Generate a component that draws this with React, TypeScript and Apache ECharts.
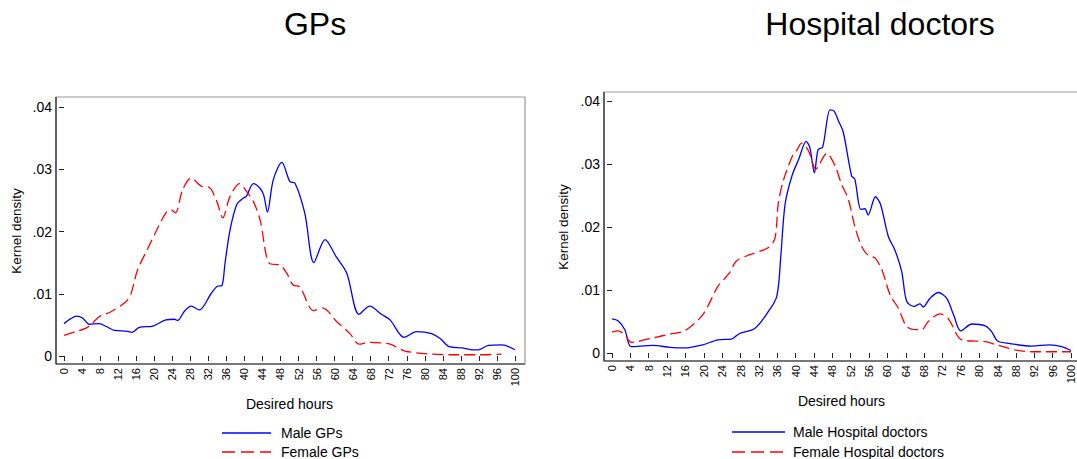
import React, { useEffect, useRef } from "react";
import * as echarts from "echarts";

const xTicks = [0, 4, 8, 12, 16, 20, 24, 28, 32, 36, 40, 44, 48, 52, 56, 60, 64, 68, 72, 76, 80, 84, 88, 92, 96, 100];
const yTicks = [0, 0.01, 0.02, 0.03, 0.04];
const chartTitles = ["GPs", "Hospital doctors"];
const seriesNames = ["Male GPs", "Female GPs", "Male Hospital doctors", "Female Hospital doctors"];

// [desired hours, kernel density]
const maleGP: number[][] = [
  [0, 0.0052], [1.5, 0.006], [2.8, 0.0064], [4.1, 0.0061], [5.6, 0.0051], [7.8, 0.0052], [9.5, 0.0047],
  [11.2, 0.0041], [13.7, 0.004], [15.1, 0.0038], [16.7, 0.0046], [19.7, 0.0048], [22.6, 0.0058],
  [24.5, 0.0059], [25.2, 0.0057], [26.7, 0.0072], [28.2, 0.008], [30, 0.0074], [32.6, 0.01], [34, 0.0112],
  [35, 0.0113], [35.7, 0.0149], [36.8, 0.0202], [38.3, 0.0243], [39.8, 0.0254], [40.4, 0.0256], [42, 0.0277],
  [43.5, 0.0269], [44.3, 0.0258], [45.1, 0.0231], [46.4, 0.0283], [48.3, 0.0311], [50.1, 0.028], [51.2, 0.0278],
  [53.4, 0.0229], [55.4, 0.015], [57.9, 0.0187], [60.3, 0.016], [62.7, 0.0133], [65.4, 0.0067], [67.8, 0.008],
  [70.4, 0.0067], [72.3, 0.0058], [75.4, 0.003], [78.2, 0.0039], [81.5, 0.0036], [83.4, 0.0028], [85.4, 0.0015],
  [88.2, 0.0013], [90.4, 0.001], [91.9, 0.001], [94.1, 0.0017], [97.1, 0.0018], [100, 0.001],
];
const femaleGP: number[][] = [
  [0, 0.0033], [2.5, 0.0039], [5.2, 0.0046], [7.8, 0.0063], [10.4, 0.0071], [13.7, 0.0087], [14.9, 0.0101],
  [16.3, 0.0138], [18.6, 0.0173], [20.4, 0.02], [22.6, 0.023], [23.7, 0.0235], [24.7, 0.023], [26.3, 0.0267],
  [28.2, 0.0286], [30.4, 0.0273], [32.2, 0.0271], [33.9, 0.0248], [35.2, 0.0222], [36.8, 0.0256], [38.9, 0.0277],
  [40.5, 0.0264], [42, 0.0248], [43.5, 0.0218], [45.5, 0.0149], [47.9, 0.0146], [49.4, 0.0133], [50.8, 0.0114],
  [52.3, 0.0111], [55.3, 0.0073], [57.4, 0.0077], [60.5, 0.0055], [63.4, 0.0036], [65.4, 0.0019], [67.8, 0.0022],
  [72.3, 0.0019], [75.6, 0.0008], [81.5, 0.0003], [86, 0.0002], [92, 0.0002], [97, 0.0003],
];
const maleHosp: number[][] = [
  [0, 0.0054], [1.3, 0.0051], [2.8, 0.0037], [4.2, 0.001], [8.9, 0.0012], [12.6, 0.0009], [15.8, 0.0008],
  [19.8, 0.0013], [23.1, 0.0021], [26, 0.0022], [27.8, 0.0031], [31.1, 0.0039], [33.8, 0.0063], [35.9, 0.009],
  [36.8, 0.0156], [37.7, 0.0236], [39.2, 0.0281], [40.7, 0.0308], [42.3, 0.0336], [43.1, 0.0326], [44.1, 0.0286],
  [44.9, 0.0323], [45.9, 0.0327], [47.5, 0.0386], [48.4, 0.0384], [49.3, 0.0369], [50.4, 0.035], [52.2, 0.0281],
  [52.9, 0.0276], [54.2, 0.0228], [55.1, 0.0229], [55.8, 0.0219], [57.4, 0.0248], [58.5, 0.0236], [60.2, 0.0185],
  [61.6, 0.0164], [63.1, 0.013], [64.2, 0.0082], [65.8, 0.0074], [67.1, 0.0078], [67.8, 0.0073], [69.3, 0.0087],
  [71.1, 0.0096], [72.9, 0.0087], [74.4, 0.0061], [76, 0.0035], [78.4, 0.0046], [81.3, 0.0043], [82.7, 0.0034],
  [84, 0.0019], [86.7, 0.0015], [91.4, 0.0011], [95.4, 0.0013], [98, 0.001], [100, 0.0004],
];
const femaleHosp: number[][] = [
  [0, 0.0033], [1.3, 0.0035], [2.8, 0.0029], [4.2, 0.0017], [8.9, 0.0024], [12.6, 0.003], [15.8, 0.0035],
  [19.8, 0.0061], [23.1, 0.0106], [25.6, 0.0127], [27.1, 0.0146], [30, 0.0156], [34, 0.0167], [35.5, 0.0182],
  [36.2, 0.0236], [37.3, 0.0273], [39.5, 0.0316], [40.2, 0.0321], [41.3, 0.0333], [42.8, 0.0321], [44.4, 0.0292],
  [46.8, 0.0317], [48.6, 0.0297], [50, 0.0268], [51.5, 0.0244], [52.9, 0.0201], [54.4, 0.0169], [55.8, 0.0155],
  [57.3, 0.0151], [58.8, 0.0132], [60.6, 0.0092], [62.4, 0.0071], [64.2, 0.0042], [66.4, 0.0037], [67.5, 0.0037],
  [68.9, 0.005], [71.5, 0.0062], [73.3, 0.0054], [76.2, 0.0021], [81.3, 0.0018], [84.2, 0.0012], [87.8, 0.0005],
  [91.4, 0.0002], [100, 0.0002],
];

const FONT = "'Liberation Sans', Arial, Helvetica, sans-serif";
const BLUE = "#0000ff";
const RED = "#ff0000";
const DARK = "#222222";
const GRAY = "#999999";

function yFmt(v: number) {
  if (v === 0) return "0";
  return v.toFixed(2).replace(/^0/, "");
}

export default function App() {
  const ref = useRef<HTMLDivElement>(null);
  useEffect(() => {
    if (!ref.current) return;
    const chart = echarts.init(ref.current, null, { renderer: "svg" });

    const panels = [
      {
        grid: { left: 64, top: 107, width: 451, height: 249 },
        frame: { x1: 56, y1: 97, x2: 525, y2: 364 },
        titleX: 310, yNameX: 16, yNameY: 231,
        legend: { lineX1: 222, lineX2: 271, textX: 281, rowY: [433, 452] },
      },
      {
        grid: { left: 612, top: 101, width: 459, height: 252 },
        frame: { x1: 604, y1: 92, x2: 1090, y2: 361 },
        titleX: 875, yNameX: 563, yNameY: 227,
        legend: { lineX1: 732, lineX2: 785, textX: 793, rowY: [432, 452] },
      },
    ];

    const xAxes = panels.map((p, i) => ({
      type: "value",
      gridIndex: i,
      min: 0,
      max: 100,
      interval: 4,
      offset: 8,
      name: "Desired hours",
      nameLocation: "middle",
      nameGap: 33,
      nameTextStyle: { fontFamily: FONT, fontSize: 14, color: "#000" },
      axisLine: { show: false },
      axisTick: { show: true, length: 5, lineStyle: { color: DARK, width: 1 } },
      axisLabel: { rotate: 90, fontFamily: FONT, fontSize: 11, color: "#000", margin: 4, showMinLabel: true, showMaxLabel: true },
      splitLine: { show: false },
    }));
    const yAxes = panels.map((p, i) => ({
      type: "value",
      gridIndex: i,
      min: 0,
      max: 0.04,
      interval: 0.01,
      offset: 8,
      axisLine: { show: false },
      axisTick: { show: true, length: 5, lineStyle: { color: DARK, width: 1 } },
      axisLabel: { fontFamily: FONT, fontSize: 14, color: "#000", margin: 4, formatter: yFmt },
      splitLine: { show: false },
    }));

    const data = [maleGP, femaleGP, maleHosp, femaleHosp];
    const series = data.map((d, k) => ({
      type: "line",
      name: seriesNames[k],
      xAxisIndex: k < 2 ? 0 : 1,
      yAxisIndex: k < 2 ? 0 : 1,
      data: d,
      showSymbol: false,
      symbol: "none",
      smooth: 0.3,
      lineStyle: { color: k % 2 === 0 ? BLUE : RED, width: 1.3, type: k % 2 === 0 ? "solid" : [11, 5] },
      itemStyle: { color: k % 2 === 0 ? BLUE : RED },
    }));

    const graphic: any[] = [];
    panels.forEach((p, i) => {
      const f = p.frame;
      graphic.push({
        type: "rect",
        shape: { x: f.x1, y: f.y1, width: f.x2 - f.x1, height: f.y2 - f.y1 },
        style: { fill: "none", stroke: GRAY, lineWidth: 1.2 },
        silent: true,
      });
      graphic.push({ type: "line", shape: { x1: f.x1, y1: f.y1, x2: f.x1, y2: f.y2 }, style: { stroke: DARK, lineWidth: 1.2 }, silent: true });
      graphic.push({ type: "line", shape: { x1: f.x1, y1: f.y2, x2: f.x2, y2: f.y2 }, style: { stroke: DARK, lineWidth: 1.2 }, silent: true });
      graphic.push({
        type: "text",
        x: p.yNameX,
        y: p.yNameY,
        rotation: Math.PI / 2,
        style: { text: "Kernel density", fontFamily: FONT, fontSize: 13.5, fill: "#000", align: "center", verticalAlign: "middle" },
        silent: true,
      });
      const L = p.legend;
      [0, 1].forEach((r) => {
        const y = L.rowY[r];
        graphic.push({
          type: "line",
          shape: { x1: L.lineX1, y1: y, x2: L.lineX2, y2: y },
          style: { stroke: r === 0 ? BLUE : RED, lineWidth: 1.3, lineDash: r === 0 ? null : [13, 6] },
          silent: true,
        });
        graphic.push({
          type: "text",
          x: L.textX,
          y,
          style: { text: seriesNames[i * 2 + r], fontFamily: FONT, fontSize: 14, fill: "#000", align: "left", verticalAlign: "middle" },
          silent: true,
        });
      });
    });

    chart.setOption({
      animation: false,
      backgroundColor: "#fff",
      title: panels.map((p, i) => ({
        text: chartTitles[i],
        left: p.titleX,
        top: 3,
        textAlign: "center",
        textStyle: { fontFamily: FONT, fontSize: 32, fontWeight: "normal", color: "#000" },
      })),
      grid: panels.map((p) => ({ ...p.grid, containLabel: false })),
      xAxis: xAxes,
      yAxis: yAxes,
      series,
      graphic,
    });
    return () => chart.dispose();
  }, []);

  return <div ref={ref} style={{ position: "fixed", left: 0, top: 0, width: 1077, height: 459 }} />;
}
